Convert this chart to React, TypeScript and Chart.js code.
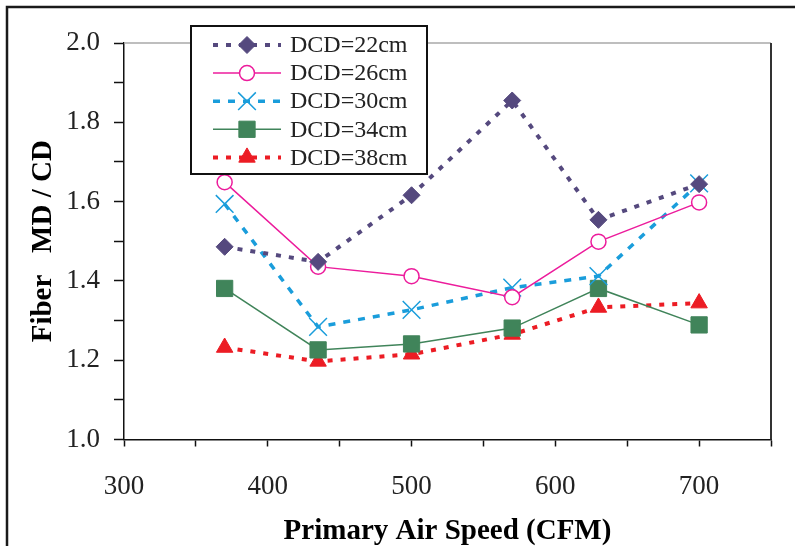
import React, { useEffect, useRef } from 'react';
import { Chart, registerables } from 'chart.js';
import { drawPoint } from 'chart.js/helpers';

Chart.register(...registerables);

const airSpeed = [370, 435, 500, 570, 630, 700];
const dcd22 = [1.486, 1.448, 1.616, 1.855, 1.554, 1.644];
const dcd26 = [1.649, 1.436, 1.412, 1.359, 1.499, 1.598];
const dcd30 = [1.594, 1.284, 1.327, 1.383, 1.412, 1.646];
const dcd34 = [1.381, 1.226, 1.241, 1.281, 1.381, 1.289];
const dcd38 = [1.232, 1.197, 1.215, 1.265, 1.333, 1.344];
const seriesLabels = ['DCD=22cm', 'DCD=26cm', 'DCD=30cm', 'DCD=34cm', 'DCD=38cm'];
const xTickLabels = [300, 400, 500, 600, 700];
const yTickLabels = ['1.0', '1.2', '1.4', '1.6', '1.8', '2.0'];

const SERIF = "'Liberation Serif', 'Times New Roman', serif";

const toPoints = (ys: number[]) => ys.map((y, i) => ({ x: airSpeed[i], y }));

const framePlugin = {
  id: 'frame',
  beforeDraw(chart: any) {
    const ctx = chart.ctx;
    ctx.save();
    ctx.fillStyle = '#fff';
    ctx.fillRect(0, 0, chart.width, chart.height);
    ctx.strokeStyle = '#1a1a1a';
    ctx.lineWidth = 2.5;
    ctx.beginPath();
    ctx.moveTo(7, chart.height);
    ctx.lineTo(7, 7);
    ctx.lineTo(chart.width, 7);
    ctx.stroke();
    ctx.restore();
  },
  beforeDatasetsDraw(chart: any) {
    const { ctx, chartArea } = chart;
    ctx.save();
    ctx.strokeStyle = '#a8a8a8';
    ctx.lineWidth = 1.5;
    ctx.beginPath();
    ctx.moveTo(chartArea.left, chartArea.top);
    ctx.lineTo(chartArea.right, chartArea.top);
    ctx.stroke();
    ctx.strokeStyle = '#333';
    ctx.lineWidth = 2;
    ctx.beginPath();
    ctx.moveTo(chartArea.right, chartArea.top);
    ctx.lineTo(chartArea.right, chartArea.bottom);
    ctx.stroke();
    ctx.restore();
  },
};

const legendPlugin = {
  id: 'boxLegend',
  afterDraw(chart: any) {
    const ctx = chart.ctx;
    ctx.save();
    const bx = 191, by = 26, bw = 236, bh = 148;
    ctx.fillStyle = '#fff';
    ctx.fillRect(bx, by, bw, bh);
    ctx.strokeStyle = '#111';
    ctx.lineWidth = 2;
    ctx.strokeRect(bx, by, bw, bh);
    chart.data.datasets.forEach((ds: any, i: number) => {
      const y = 45 + i * 28.1;
      ctx.setLineDash(ds.borderDash || []);
      ctx.strokeStyle = ds.borderColor;
      ctx.lineWidth = ds.borderWidth;
      ctx.beginPath();
      ctx.moveTo(213, y);
      ctx.lineTo(281, y);
      ctx.stroke();
      ctx.setLineDash([]);
      ctx.fillStyle = ds.pointBackgroundColor;
      ctx.strokeStyle = ds.pointBorderColor;
      ctx.lineWidth = ds.pointBorderWidth;
      drawPoint(ctx, { pointStyle: ds.pointStyle, radius: ds.pointRadius, borderWidth: ds.pointBorderWidth, rotation: 0 } as any, 247, y);
      ctx.fillStyle = '#222';
      ctx.font = `24px ${SERIF}`;
      ctx.textBaseline = 'middle';
      ctx.textAlign = 'left';
      ctx.fillText(ds.label, 290, y + 1);
    });
    ctx.restore();
  },
};

export default function App() {
  const ref = useRef<HTMLCanvasElement>(null);
  useEffect(() => {
    if (!ref.current) return;
    const colors = ['#55497e', '#ec1c9c', '#1a9ddb', '#40845a', '#ec1c24'];
    const chart = new Chart(ref.current, {
      type: 'line',
      data: {
        datasets: [
          {
            label: seriesLabels[0], data: toPoints(dcd22), borderColor: colors[0], borderWidth: 4,
            borderDash: [5, 8], pointStyle: 'rectRot', pointRadius: 8.5, pointBackgroundColor: colors[0],
            pointBorderColor: colors[0], pointBorderWidth: 1,
          },
          {
            label: seriesLabels[1], data: toPoints(dcd26), borderColor: colors[1], borderWidth: 1.5,
            borderDash: [], pointStyle: 'circle', pointRadius: 7.5, pointBackgroundColor: '#fff',
            pointBorderColor: colors[1], pointBorderWidth: 1.5,
          },
          {
            label: seriesLabels[2], data: toPoints(dcd30), borderColor: colors[2], borderWidth: 3.5,
            borderDash: [7, 8], pointStyle: 'crossRot', pointRadius: 12.5, pointBackgroundColor: colors[2],
            pointBorderColor: colors[2], pointBorderWidth: 1.5,
          },
          {
            label: seriesLabels[3], data: toPoints(dcd34), borderColor: colors[3], borderWidth: 1.5,
            borderDash: [], pointStyle: 'rect', pointRadius: 11.5, pointBackgroundColor: colors[3],
            pointBorderColor: colors[3], pointBorderWidth: 1,
          },
          {
            label: seriesLabels[4], data: toPoints(dcd38), borderColor: colors[4], borderWidth: 4,
            borderDash: [5, 8], pointStyle: 'triangle', pointRadius: 9.5, pointBackgroundColor: colors[4],
            pointBorderColor: colors[4], pointBorderWidth: 1,
          },
        ] as any,
      },
      options: {
        animation: false,
        responsive: false,
        maintainAspectRatio: false,
        devicePixelRatio: 1,
        layout: { padding: { top: 43, right: 22, left: 0, bottom: 0 } },
        plugins: { legend: { display: false }, tooltip: { enabled: false } },
        elements: { line: { tension: 0 } },
        scales: {
          x: {
            type: 'linear',
            min: 300,
            max: 750,
            afterFit: (s: any) => { s.height = 106.5; },
            ticks: {
              stepSize: 50,
              autoSkip: false,
              maxRotation: 0,
              padding: 24,
              color: '#222',
              font: { family: SERIF, size: 27 },
              callback: (v: any) => (xTickLabels.includes(Number(v)) ? String(v) : ''),
            },
            grid: { display: true, drawOnChartArea: false, drawTicks: true, tickLength: 7, tickColor: '#111', tickWidth: 1.5 } as any,
            border: { display: true, color: '#111', width: 1.5 },
            title: {
              display: true,
              text: 'Primary Air Speed (CFM)',
              color: '#000',
              font: { family: SERIF, size: 29, weight: 'bold', lineHeight: 1 },
              padding: { top: 0, bottom: 0 },
            },
          },
          y: {
            type: 'linear',
            min: 1,
            max: 2,
            afterFit: (s: any) => { s.width = 124; },
            ticks: {
              stepSize: 0.1,
              autoSkip: false,
              padding: 14,
              color: '#222',
              font: { family: SERIF, size: 27 },
              callback: (v: any) => {
                const s = Number(v).toFixed(1);
                return yTickLabels.includes(s) ? s : '';
              },
            },
            grid: { display: true, drawOnChartArea: false, drawTicks: true, tickLength: 10, tickColor: '#111', tickWidth: 1.5 } as any,
            border: { display: true, color: '#111', width: 1.5 },
            title: {
              display: true,
              text: 'Fiber   MD / CD',
              color: '#000',
              font: { family: SERIF, size: 29, weight: 'bold', lineHeight: 1 },
              padding: { top: 29, bottom: 0 },
            },
          },
        },
      },
      plugins: [framePlugin, legendPlugin],
    } as any);
    return () => chart.destroy();
  }, []);
  return (
    <div style={{ position: 'absolute', left: 0, top: 0, width: 795, height: 546 }}>
      <canvas ref={ref} width={795} height={546} style={{ width: 795, height: 546, display: 'block' }} />
    </div>
  );
}
